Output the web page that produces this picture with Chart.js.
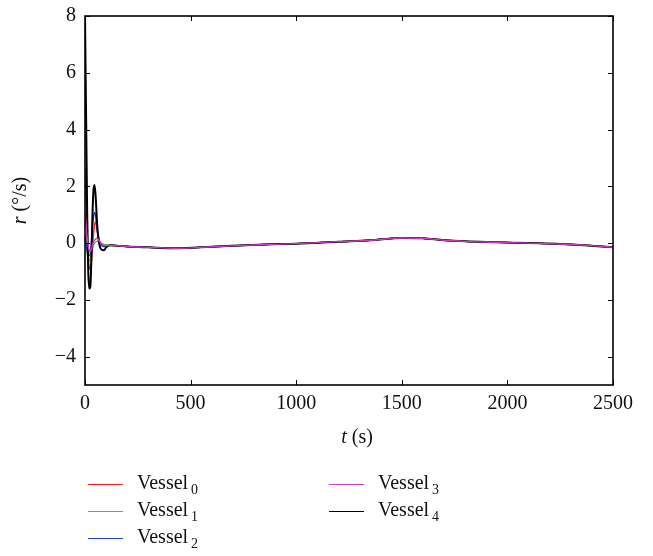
<!DOCTYPE html>
<html>
<head>
<meta charset="utf-8">
<script src="https://cdn.jsdelivr.net/npm/chart.js@4/dist/chart.umd.min.js"></script>
<style>
  html, body { margin: 0; padding: 0; background: #fff; }
  #wrap { position: relative; width: 653px; height: 556px; }
  canvas { position: absolute; left: 0; top: 0; }
  .leg { position: absolute; font-family: "Liberation Serif", "DejaVu Serif", serif; font-size: 20px; color: #111; white-space: nowrap; }
  .leg .sw { position: absolute; left: 0; top: 0; width: 35px; height: 0; border-top: 1px solid #000; }
  .leg .tx { position: absolute; left: 49px; top: -13px; line-height: 22px; }
  .leg sub { font-size: 14px; vertical-align: -5px; margin-left: 3px; }
</style>
</head>
<body>
<div id="wrap">
  <canvas id="c" width="653" height="556"></canvas>
</div>
<script>
// ---- data ----
const TIME = [0, 5, 10, 15, 20, 25, 30, 35, 40, 45, 50, 55, 60, 70, 80, 90, 100,
              120, 150, 200, 300, 430, 600, 850, 1000, 1200, 1350, 1500, 1600, 1700, 1800, 1950, 2100, 2250, 2400, 2500];
const R_VESSEL0 = [2.6, 1.6, 0.4, -0.45, -0.85, -0.92, -0.7, -0.2, 0.3, 0.62, 0.75, 0.62, 0.38, 0.05, -0.06, -0.1, -0.1,
                   -0.08, -0.09, -0.12, -0.15, -0.18, -0.13, -0.05, -0.02, 0.05, 0.1, 0.18, 0.17, 0.1, 0.06, 0.03, 0.0, -0.03, -0.09, -0.15];
const R_VESSEL1 = [0.2, -0.1, -0.35, -0.55, -0.62, -0.55, -0.38, -0.2, -0.08, 0.0, 0.04, 0.06, 0.06, 0.03, -0.02, -0.05, -0.06,
                   -0.08, -0.09, -0.12, -0.15, -0.18, -0.13, -0.05, -0.02, 0.05, 0.1, 0.18, 0.17, 0.1, 0.06, 0.03, 0.0, -0.03, -0.09, -0.15];
const R_VESSEL2 = [0.3, 0.0, -0.25, -0.42, -0.45, -0.35, 0.0, 0.5, 0.9, 1.08, 0.98, 0.65, 0.32, 0.0, -0.1, -0.12, -0.1,
                   -0.08, -0.09, -0.12, -0.15, -0.18, -0.13, -0.05, -0.02, 0.05, 0.1, 0.18, 0.17, 0.1, 0.06, 0.03, 0.0, -0.03, -0.09, -0.15];
const R_VESSEL3 = [1.1, 0.6, 0.2, -0.1, -0.25, -0.3, -0.22, -0.08, 0.04, 0.1, 0.14, 0.17, 0.15, 0.05, -0.04, -0.08, -0.09,
                   -0.08, -0.09, -0.12, -0.15, -0.18, -0.13, -0.05, -0.02, 0.05, 0.1, 0.18, 0.17, 0.1, 0.06, 0.03, 0.0, -0.03, -0.09, -0.15];
const R_VESSEL4 = [8.0, 4.6, 1.2, -0.9, -1.6, -1.55, -0.6, 0.9, 1.85, 2.05, 1.7, 1.0, 0.4, -0.12, -0.24, -0.25, -0.15,
                   -0.08, -0.09, -0.12, -0.15, -0.18, -0.13, -0.05, -0.02, 0.05, 0.1, 0.18, 0.17, 0.1, 0.06, 0.03, 0.0, -0.03, -0.09, -0.15];
const SERIES_NAMES = ["Vessel", "Vessel", "Vessel", "Vessel", "Vessel"];
const SERIES_SUBS = ["0", "1", "2", "3", "4"];
const SERIES_VALUES = [R_VESSEL0, R_VESSEL1, R_VESSEL2, R_VESSEL3, R_VESSEL4];
const X_TICKS = [0, 500, 1000, 1500, 2000, 2500];
const Y_TICKS = [-4, -2, 0, 2, 4, 6, 8];
const X_TITLE = ["t", " (s)"];
const Y_TITLE = ["r", " (°/s)"];

// ---- styling ----
const COLORS = ["#ff1a1a", "#5cb83a", "#2340c8", "#cc3fbf", "#000000"];
const WIDTHS = [1.4, 1.4, 1.4, 1.4, 2];
const ORDERS = [3, 4, 2, 0, 1];
const SERIF = '"Liberation Serif", "DejaVu Serif", serif';

const datasets = SERIES_VALUES.map((vals, i) => ({
  label: SERIES_NAMES[i] + SERIES_SUBS[i],
  data: TIME.map((t, k) => ({ x: t, y: vals[k] })),
  borderColor: COLORS[i],
  borderWidth: WIDTHS[i],
  pointRadius: 0,
  fill: false,
  cubicInterpolationMode: 'monotone',
  order: ORDERS[i]
}));

const frame = {
  id: 'frame',
  afterDraw(chart) {
    const { ctx, chartArea: a, scales: { x, y } } = chart;
    ctx.save();
    ctx.strokeStyle = '#000';
    ctx.lineWidth = 1.6;
    ctx.strokeRect(a.left, a.top, a.right - a.left, a.bottom - a.top);
    ctx.lineWidth = 1;
    const L = 5;
    ctx.beginPath();
    X_TICKS.forEach(v => {
      const px = Math.round(x.getPixelForValue(v)) + 0.5;
      ctx.moveTo(px, a.bottom); ctx.lineTo(px, a.bottom - L);
      ctx.moveTo(px, a.top); ctx.lineTo(px, a.top + L);
    });
    Y_TICKS.forEach(v => {
      const py = Math.round(y.getPixelForValue(v)) + 0.5;
      ctx.moveTo(a.left, py); ctx.lineTo(a.left + L, py);
      ctx.moveTo(a.right, py); ctx.lineTo(a.right - L, py);
    });
    ctx.stroke();

    // axis titles with italic variable
    ctx.fillStyle = '#111';
    ctx.textBaseline = 'middle';
    const drawMixed = (parts, cx, cy) => {
      const fonts = ['italic 20px ' + SERIF, '20px ' + SERIF];
      let w = 0;
      parts.forEach((p, i) => { ctx.font = fonts[i]; w += ctx.measureText(p).width; });
      let xx = cx - w / 2;
      ctx.textAlign = 'left';
      parts.forEach((p, i) => { ctx.font = fonts[i]; ctx.fillText(p, xx, cy); xx += ctx.measureText(p).width; });
    };
    drawMixed(X_TITLE, (a.left + a.right) / 2 + 8, 438);
    ctx.save();
    ctx.translate(21, (a.top + a.bottom) / 2);
    ctx.rotate(-Math.PI / 2);
    drawMixed(Y_TITLE, 0, 0);
    ctx.restore();
    ctx.restore();
  }
};

const chart = new Chart(document.getElementById('c'), {
  type: 'line',
  data: { datasets },
  options: {
    responsive: false,
    animation: false,
    layout: { padding: { top: 8, right: 40, bottom: 0, left: 0 } },
    plugins: { legend: { display: false }, tooltip: { enabled: false } },
    scales: {
      x: {
        type: 'linear', min: 0, max: 2500,
        afterBuildTicks: s => { s.ticks = X_TICKS.map(v => ({ value: v })); },
        afterFit: s => { s.height = 171; },
        grid: { display: false, drawTicks: false },
        border: { display: false },
        ticks: { padding: 11, color: '#111', font: { family: SERIF, size: 20, lineHeight: 0.8 }, maxRotation: 0,
                 callback: v => String(v) }
      },
      y: {
        type: 'linear', min: -5, max: 8,
        afterBuildTicks: s => { s.ticks = Y_TICKS.map(v => ({ value: v })); },
        afterFit: s => { s.width = 85; },
        grid: { display: false, drawTicks: false },
        border: { display: false },
        ticks: { padding: 9, color: '#111', font: { family: SERIF, size: 20, lineHeight: 0.7 },
                 callback: v => String(v).replace('-', '\u2212') }
      }
    }
  },
  plugins: [frame]
});

// ---- legend (HTML text) ----
const LEG_POS = [[88, 484], [88, 511], [88, 538], [329, 484], [329, 511]];
const wrap = document.getElementById('wrap');
SERIES_NAMES.forEach((name, i) => {
  const d = document.createElement('div');
  d.className = 'leg';
  d.style.left = LEG_POS[i][0] + 'px';
  d.style.top = LEG_POS[i][1] + 'px';
  const sw = document.createElement('div');
  sw.className = 'sw';
  sw.style.borderTopColor = COLORS[i];
  const tx = document.createElement('div');
  tx.className = 'tx';
  tx.innerHTML = name + '<sub>' + SERIES_SUBS[i] + '</sub>';
  d.appendChild(sw); d.appendChild(tx);
  wrap.appendChild(d);
});
</script>
</body>
</html>
